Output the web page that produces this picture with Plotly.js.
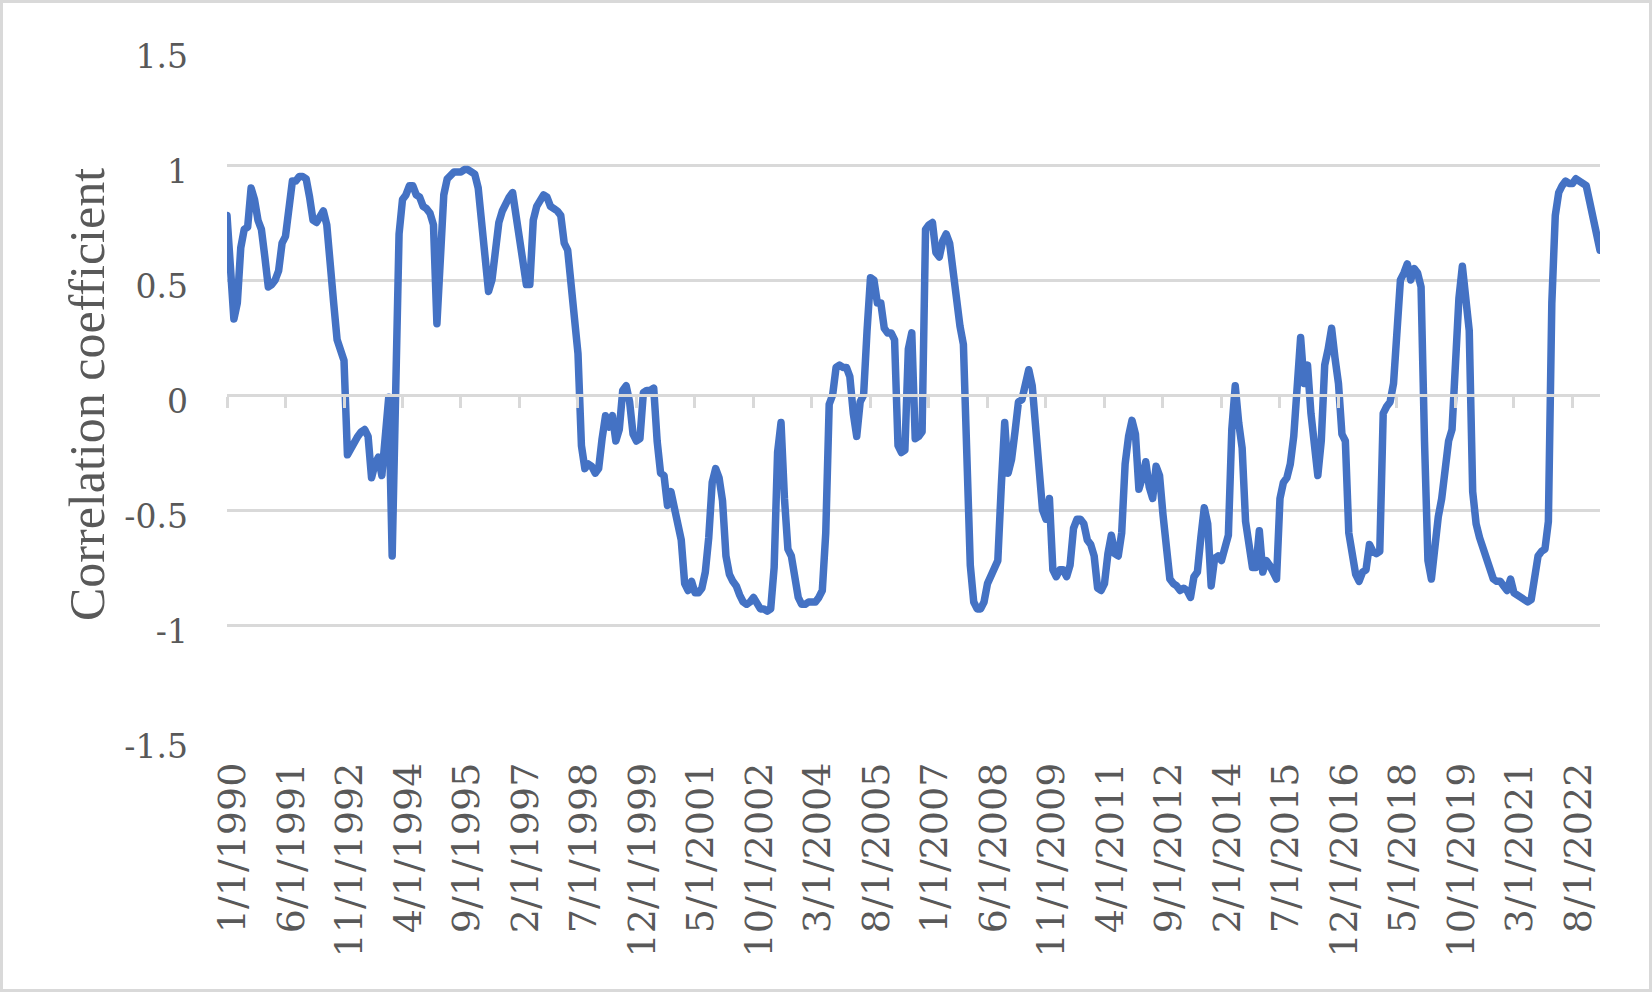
<!DOCTYPE html>
<html>
<head>
<meta charset="utf-8">
<script src="https://cdn.plot.ly/plotly-3.0.1.min.js"></script>
<style>
html,body{margin:0;padding:0;background:#ffffff;}
#chart{width:1652px;height:992px;}
</style>
</head>
<body>
<div id="chart"></div>
<script>
// ---- data (monthly correlation coefficient, first value = January 1990) ----
const startYear = 1990;
const startMonth = 1;
const labelEvery = 17;

const corr1990s = [
  0.78, 0.55, 0.33, 0.40, 0.64, 0.72, 0.73, 0.90, 0.85, 0.76,
  0.72, 0.60, 0.47, 0.48, 0.50, 0.54, 0.66, 0.69, 0.83, 0.93,
  0.93, 0.95, 0.95, 0.94, 0.86, 0.76, 0.75, 0.77, 0.80, 0.74,
  0.60, 0.40, 0.24, 0.20, 0.15, -0.26, -0.23, -0.21, -0.18, -0.16,
  -0.15, -0.18, -0.36, -0.30, -0.27, -0.35, -0.20, -0.01, -0.70, 0.00,
  0.70, 0.85, 0.87, 0.91, 0.91, 0.87, 0.86, 0.82, 0.81, 0.79,
  0.74, 0.31, 0.62, 0.87, 0.94, 0.96, 0.97, 0.97, 0.97, 0.98,
  0.98, 0.97, 0.96, 0.90, 0.76, 0.58, 0.45, 0.50, 0.66, 0.75,
  0.80, 0.84, 0.86, 0.88, 0.77, 0.66, 0.55, 0.48, 0.48, 0.76,
  0.82, 0.85, 0.87, 0.86, 0.82, 0.81, 0.80, 0.78, 0.66, 0.63,
  0.45, 0.33, 0.18, -0.22, -0.32, -0.30, -0.31, -0.34, -0.32, -0.19,
  -0.09, -0.14, -0.09, -0.20, -0.15, 0.02, 0.04, -0.03, -0.17, -0.20
];

const corr2000s = [
  -0.19, 0.01, 0.02, 0.02, 0.03, -0.20, -0.34, -0.35, -0.48, -0.42,
  -0.48, -0.54, -0.63, -0.82, -0.85, -0.81, -0.86, -0.86, -0.84, -0.77,
  -0.62, -0.38, -0.32, -0.36, -0.46, -0.70, -0.78, -0.81, -0.83, -0.87,
  -0.90, -0.91, -0.90, -0.88, -0.91, -0.93, -0.93, -0.94, -0.93, -0.75,
  -0.25, -0.12, -0.45, -0.67, -0.70, -0.80, -0.88, -0.91, -0.91, -0.90,
  -0.90, -0.90, -0.88, -0.85, -0.60, -0.04, 0.00, 0.12, 0.13, 0.12,
  0.12, 0.08, -0.08, -0.18, -0.03, 0.00, 0.28, 0.51, 0.50, 0.40,
  0.40, 0.29, 0.27, 0.27, 0.24, -0.22, -0.25, -0.24, 0.20, 0.27,
  -0.19, -0.18, -0.16, 0.72, 0.74, 0.75, 0.62, 0.60, 0.67, 0.70,
  0.66, 0.52, 0.45, 0.30, 0.22, -0.43, -0.74, -0.90, -0.93, -0.93,
  -0.90, -0.82, -0.78, -0.75, -0.72, -0.40, -0.12, -0.34, -0.28, -0.16,
  -0.03, -0.02, 0.06, 0.11, 0.04, -0.12, -0.35, -0.50, -0.54, -0.45
];

const corr2010s = [
  -0.76, -0.79, -0.76, -0.76, -0.79, -0.74, -0.58, -0.54, -0.54, -0.56,
  -0.63, -0.65, -0.70, -0.84, -0.85, -0.82, -0.69, -0.61, -0.69, -0.70,
  -0.60, -0.30, -0.18, -0.11, -0.17, -0.41, -0.36, -0.29, -0.40, -0.45,
  -0.31, -0.35, -0.52, -0.70, -0.80, -0.82, -0.83, -0.85, -0.84, -0.85,
  -0.88, -0.79, -0.77, -0.62, -0.49, -0.56, -0.83, -0.71, -0.70, -0.72,
  -0.67, -0.61, -0.15, 0.04, -0.12, -0.23, -0.55, -0.67, -0.75, -0.75,
  -0.59, -0.77, -0.72, -0.74, -0.78, -0.80, -0.45, -0.38, -0.36, -0.30,
  -0.18, 0.06, 0.25, 0.05, 0.13, -0.08, -0.25, -0.35, -0.20, 0.13,
  0.20, 0.29, 0.16, 0.05, -0.17, -0.20, -0.60, -0.72, -0.78, -0.81,
  -0.77, -0.76, -0.65, -0.68, -0.69, -0.68, -0.08, -0.05, -0.03, 0.05,
  0.28, 0.50, 0.53, 0.57, 0.50, 0.55, 0.53, 0.47, -0.20, -0.72,
  -0.80, -0.62, -0.53, -0.45, -0.28, -0.20, -0.15, 0.22, 0.42, 0.56
];

const corr2020s = [
  0.42, 0.28, -0.42, -0.56, -0.62, -0.66, -0.71, -0.74, -0.80, -0.81,
  -0.81, -0.83, -0.85, -0.80, -0.86, -0.87, -0.88, -0.89, -0.90, -0.89,
  -0.80, -0.70, -0.68, -0.67, -0.55, 0.40, 0.78, 0.88, 0.91, 0.93,
  0.92, 0.92, 0.94, 0.93, 0.92, 0.91, 0.84, 0.77, 0.70, 0.63
];

const yTickVals = [-1.5, -1, -0.5, 0, 0.5, 1, 1.5];
const yTickText = ['-1.5', '-1', '-0.5', '0', '0.5', '1', '1.5'];
const yTitle = 'Correlation coefficient';

// ---- build series ----
const values = corr1990s.concat(corr2000s, corr2010s, corr2020s);
const dates = values.map(function (_, i) {
  const t = startMonth - 1 + i;
  return (t % 12 + 1) + '/1/' + (startYear + Math.floor(t / 12));
});
const tickDates = dates.filter(function (_, i) { return i % labelEvery === 0; });
const N = values.length;

const W = 1652, H = 992;
const M = {l: 227, r: 52, t: 50, b: 252};
const pw = W - M.l - M.r, ph = H - M.t - M.b;
const grey = '#595959';
const gridGrey = '#d9d9d9';

const trace = {
  type: 'scatter',
  mode: 'lines',
  x: dates,
  y: values,
  line: {color: '#4472C4', width: 7.5},
  hoverinfo: 'x+y',
  showlegend: false
};

// carrier for the category tick marks drawn on the zero line
const tickCarrier = {
  type: 'scatter',
  mode: 'lines',
  x: [0, N - 1],
  y: [null, null],
  xaxis: 'x2',
  yaxis: 'y',
  hoverinfo: 'skip',
  showlegend: false
};

const layout = {
  width: W, height: H,
  margin: M,
  paper_bgcolor: '#ffffff',
  plot_bgcolor: '#ffffff',
  showlegend: false,
  xaxis: {
    type: 'category',
    range: [0, N - 1],
    tickmode: 'array',
    tickvals: tickDates,
    ticktext: tickDates,
    tickangle: -90,
    ticks: '',
    showgrid: false,
    zeroline: false,
    showline: false,
    ticklabelstandoff: 14,
    ticklabelshift: 6,
    tickfont: {family: 'DejaVu Serif', size: 38, color: grey},
    fixedrange: true
  },
  xaxis2: {
    type: 'linear',
    overlaying: 'x',
    anchor: 'free',
    position: 0.5,
    side: 'bottom',
    range: [0, N - 1],
    tickmode: 'linear',
    tick0: 0,
    dtick: labelEvery,
    ticks: 'outside',
    ticklen: 11,
    tickwidth: 2.5,
    tickcolor: gridGrey,
    showticklabels: false,
    showgrid: false,
    zeroline: false,
    showline: true,
    linecolor: gridGrey,
    linewidth: 2.5,
    fixedrange: true
  },
  yaxis: {
    range: [-1.5, 1.5],
    tickmode: 'array',
    tickvals: yTickVals,
    ticktext: yTickText,
    ticks: '',
    showgrid: true,
    gridcolor: gridGrey,
    gridwidth: 2.5,
    zeroline: false,
    showline: false,
    ticklabelstandoff: 38,
    ticklabelshift: 6,
    tickfont: {family: 'DejaVu Serif', size: 33, color: grey},
    fixedrange: true
  },
  annotations: [{
    text: yTitle,
    xref: 'paper', yref: 'paper',
    x: (87 - M.l) / pw, y: 0.5,
    xanchor: 'center', yanchor: 'middle',
    textangle: -90,
    showarrow: false,
    font: {family: 'Liberation Serif', size: 50, color: grey}
  }],
  shapes: [{
    type: 'rect', xref: 'paper', yref: 'paper', layer: 'below',
    x0: (1.5 - M.l) / pw, x1: (W - 1.5 - M.l) / pw,
    y0: (M.t + ph - (H - 1.5)) / ph, y1: (M.t + ph - 1.5) / ph,
    line: {color: gridGrey, width: 3}
  }]
};

Plotly.newPlot('chart', [tickCarrier, trace], layout, {displayModeBar: false, responsive: false}).then(function () {
  document.querySelectorAll('.scatterlayer path.js-line').forEach(function (p) {
    p.style.strokeLinejoin = 'round';
    p.style.strokeLinecap = 'round';
  });
});
</script>
</body>
</html>
